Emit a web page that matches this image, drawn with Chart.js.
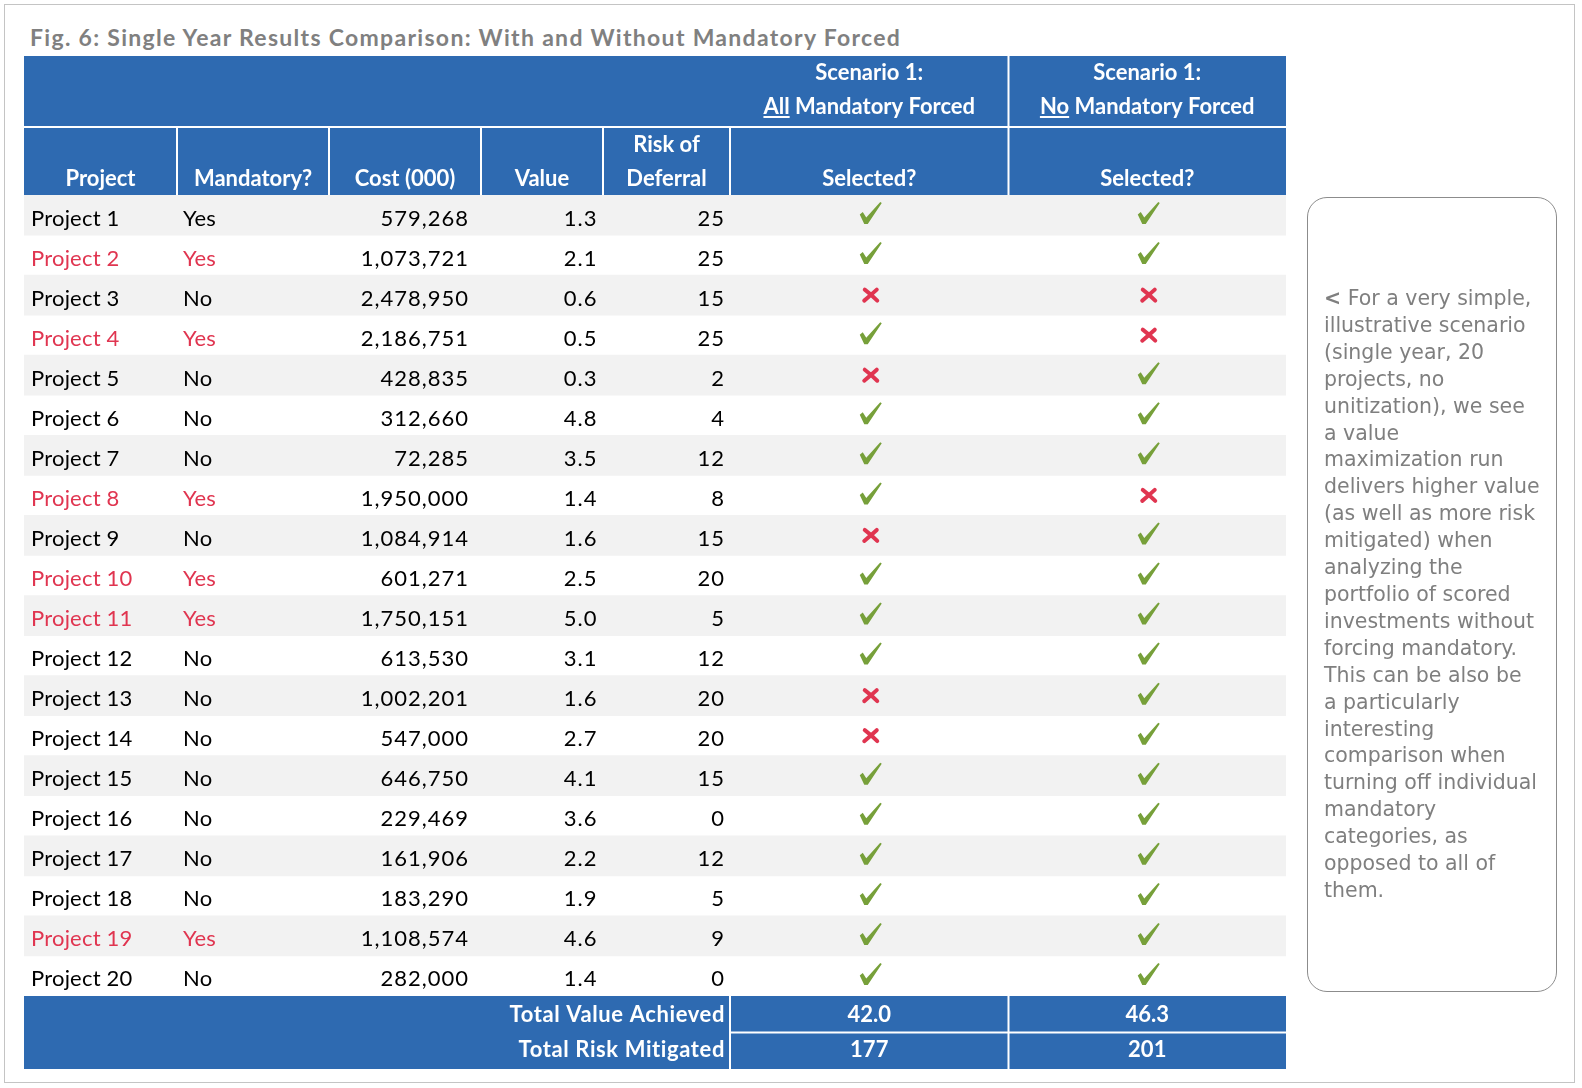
<!DOCTYPE html>
<html>
<head>
<meta charset="utf-8">
<title>Fig. 6: Single Year Results Comparison</title>
<script src="https://cdn.jsdelivr.net/npm/chart.js@4.4.1/dist/chart.umd.min.js"></script>
<style>
  html, body { margin: 0; padding: 0; background: #fff; }
  #wrap { position: relative; width: 1582px; height: 1088px; overflow: hidden; }
  #frame { position: absolute; left: 4px; top: 4px; width: 1571px; height: 1079px; border: 1px solid #c4c4c4; box-sizing: border-box; }
  #table { position: absolute; left: 0; top: 0; }
  #title { position: absolute; left: 30px; top: 24px; font: bold 23px Lato, sans-serif; letter-spacing: 1.3px;
           line-height: 26px; color: #808080; white-space: nowrap; }
  #note { position: absolute; left: 1307px; top: 197px; width: 250px; height: 795px;
          border: 1px solid #8c8c8c; border-radius: 20px; box-sizing: border-box; }
  #noteText { position: absolute; left: 1324px; top: 285px; font: 20.5px "DejaVu Sans", sans-serif;
              line-height: 26.9px; color: #7f7f7f; white-space: nowrap; }
</style>
</head>
<body>
<div id="wrap">
  <div id="frame"></div>
  <div id="title">Fig. 6: Single Year Results Comparison: With and Without Mandatory Forced</div>
  <canvas id="table" width="1582" height="1088"></canvas>
  <div id="note"></div>
  <div id="noteText"><b>&lt;</b> For a very simple,<br>illustrative scenario<br>(single year, 20<br>projects, no<br>unitization), we see<br>a value<br>maximization run<br>delivers higher value<br>(as well as more risk<br>mitigated) when<br>analyzing the<br>portfolio of scored<br>investments without<br>forcing mandatory.<br>This can be also be<br>a particularly<br>interesting<br>comparison when<br>turning off individual<br>mandatory<br>categories, as<br>opposed to all of<br>them.</div>
</div>
<script>
// valores
const projects = ['Project 1', 'Project 2', 'Project 3', 'Project 4', 'Project 5', 'Project 6', 'Project 7',
  'Project 8', 'Project 9', 'Project 10', 'Project 11', 'Project 12', 'Project 13', 'Project 14',
  'Project 15', 'Project 16', 'Project 17', 'Project 18', 'Project 19', 'Project 20'];
const mandatory = ['Yes', 'Yes', 'No', 'Yes', 'No', 'No', 'No', 'Yes', 'No', 'Yes',
  'Yes', 'No', 'No', 'No', 'No', 'No', 'No', 'No', 'Yes', 'No'];
// linhas destacadas em vermelho (o Project 1 não é destacado)
const highlighted = [0, 1, 0, 1, 0, 0, 0, 1, 0, 1, 1, 0, 0, 0, 0, 0, 0, 0, 1, 0];
const costs = [579268, 1073721, 2478950, 2186751, 428835, 312660, 72285, 1950000, 1084914, 601271,
  1750151, 613530, 1002201, 547000, 646750, 229469, 161906, 183290, 1108574, 282000];
const values = [1.3, 2.1, 0.6, 0.5, 0.3, 4.8, 3.5, 1.4, 1.6, 2.5, 5.0, 3.1, 1.6, 2.7, 4.1, 3.6, 2.2, 1.9, 4.6, 1.4];
const riskOfDeferral = [25, 25, 15, 25, 2, 4, 12, 8, 15, 20, 5, 12, 20, 20, 15, 0, 12, 5, 9, 0];
const selectedAllForced = [1, 1, 0, 1, 0, 1, 1, 1, 0, 1, 1, 1, 0, 0, 1, 1, 1, 1, 1, 1];
const selectedNoForced = [1, 1, 0, 0, 1, 1, 1, 0, 1, 1, 1, 1, 1, 1, 1, 1, 1, 1, 1, 1];

const columnLabels = [['Project'], ['Mandatory?'], ['Cost (000)'], ['Value'], ['Risk of', 'Deferral'], ['Selected?'], ['Selected?']];
const scenarioLabels = [['Scenario 1:', 'All', ' Mandatory Forced'], ['Scenario 1:', 'No', ' Mandatory Forced']];
const totalLabels = ['Total Value Achieved', 'Total Risk Mitigated'];
const totalValue = [42.0, 46.3];
const totalRisk = [177, 201];

// bordas das colunas (unidades do eixo x)
const colEdges = [0, 153, 305, 457, 579, 706, 984.5, 1262];

const BLUE = '#2e6ab1';
const RED = '#e03550';
const GREEN = '#77a03a';
const STRIPE = '#f2f2f2';
const BODY_FONT = '22px Lato, sans-serif';
const HEAD_FONT = 'bold 22px Lato, sans-serif';

function drawCheck(ctx, cx, cy) {
    ctx.save();
    ctx.translate(cx, cy);
    ctx.fillStyle = GREEN;
    ctx.beginPath();
    ctx.moveTo(-11, 1);
    ctx.lineTo(-8, -1.5);
    ctx.lineTo(-4.5, 4);
    ctx.lineTo(9.5, -11.5);
    ctx.lineTo(11, -10.5);
    ctx.lineTo(-3, 10.5);
    ctx.lineTo(-6.5, 10.5);
    ctx.closePath();
    ctx.fill();
    ctx.restore();
}

function drawCross(ctx, cx, cy) {
    ctx.save();
    ctx.translate(cx, cy);
    ctx.strokeStyle = RED;
    ctx.lineCap = 'round';
    ctx.lineWidth = 4;
    ctx.beginPath();
    ctx.moveTo(-6, -5.5);
    ctx.quadraticCurveTo(0, -1, 6.5, 5.5);
    ctx.moveTo(6, -5.5);
    ctx.quadraticCurveTo(0, 0, -6.5, 5.5);
    ctx.stroke();
    ctx.restore();
}

const tablePlugin = {
    id: 'tableCells',
    beforeDatasetsDraw(chart) {
        const ctx = chart.ctx;
        const x = chart.scales.x;
        const area = chart.chartArea;
        const left = x.getPixelForValue(colEdges[0]);
        const right = x.getPixelForValue(colEdges[colEdges.length - 1]);
        const ex = colEdges.map(v => x.getPixelForValue(v));

        ctx.save();
        // cabeçalho
        ctx.fillStyle = BLUE;
        ctx.fillRect(left, area.top - 139, right - left, 139);
        ctx.fillStyle = '#fff';
        ctx.fillRect(left, area.top - 69, right - left, 2);
        for (let i = 1; i < ex.length - 1; i++) {
            ctx.fillRect(ex[i] - 1, area.top - 67, 2, 67);
        }
        ctx.fillRect(ex[6] - 1, area.top - 139, 2, 70);

        // rodapé
        ctx.fillStyle = BLUE;
        ctx.fillRect(left, area.bottom, right - left, 73);
        ctx.fillStyle = '#fff';
        ctx.fillRect(ex[5] - 1, area.bottom, 2, 73);
        ctx.fillRect(ex[6] - 1, area.bottom, 2, 73);
        ctx.fillRect(ex[5], area.bottom + 35.5, right - ex[5], 2);

        // textos do cabeçalho
        ctx.fillStyle = '#fff';
        ctx.font = HEAD_FONT;
        ctx.textAlign = 'center';
        ctx.textBaseline = 'alphabetic';
        columnLabels.forEach((lines, i) => {
            const cx = (ex[i] + ex[i + 1]) / 2;
            lines.forEach((t, j) => {
                ctx.fillText(t, cx, area.top - 9 - (lines.length - 1 - j) * 34);
            });
        });
        scenarioLabels.forEach((parts, k) => {
            const cx = (ex[5 + k] + ex[6 + k]) / 2;
            ctx.textAlign = 'center';
            ctx.fillText(parts[0], cx, area.top - 115.5);
            const w1 = ctx.measureText(parts[1]).width;
            const w2 = ctx.measureText(parts[2]).width;
            const sx = cx - (w1 + w2) / 2;
            ctx.textAlign = 'left';
            ctx.fillText(parts[1], sx, area.top - 81);
            ctx.fillText(parts[2], sx + w1, area.top - 81);
            ctx.fillRect(sx, area.top - 79, w1, 2);
        });

        // textos do rodapé
        ctx.textAlign = 'right';
        ctx.letterSpacing = '0.6px';
        ctx.fillText(totalLabels[0], ex[5] - 5, area.bottom + 25.5);
        ctx.fillText(totalLabels[1], ex[5] - 5, area.bottom + 60.5);
        ctx.letterSpacing = '0px';
        ctx.textAlign = 'center';
        for (let k = 0; k < 2; k++) {
            const cx = (ex[5 + k] + ex[6 + k]) / 2;
            ctx.fillText(totalValue[k].toFixed(1), cx, area.bottom + 25.5);
            ctx.fillText(String(totalRisk[k]), cx, area.bottom + 60.5);
        }
        ctx.restore();
    },
    afterDatasetsDraw(chart) {
        const ctx = chart.ctx;
        const x = chart.scales.x;
        const y = chart.scales.y;
        const ex = colEdges.map(v => x.getPixelForValue(v));

        ctx.save();
        ctx.font = BODY_FONT;
        ctx.textBaseline = 'alphabetic';
        projects.forEach((name, i) => {
            const cy = y.getPixelForValue(i);
            const base = cy + 10.5;

            ctx.fillStyle = highlighted[i] ? RED : '#000';
            ctx.textAlign = 'left';
            ctx.letterSpacing = '0.2px';
            ctx.fillText(name, ex[0] + 7, base);
            ctx.fillText(mandatory[i], ex[1] + 6, base);

            ctx.fillStyle = '#000';
            ctx.textAlign = 'right';
            ctx.letterSpacing = '1px';
            ctx.fillText(costs[i].toLocaleString('en-US'), ex[3] - 12, base);
            ctx.fillText(values[i].toFixed(1), ex[4] - 5.5, base);
            ctx.fillText(String(riskOfDeferral[i]), ex[5] - 5, base);
            ctx.letterSpacing = '0px';

            const c1 = (ex[5] + ex[6]) / 2 + 1.5;
            const c2 = (ex[6] + ex[7]) / 2 + 1.5;
            selectedAllForced[i] ? drawCheck(ctx, c1, cy - 1.5) : drawCross(ctx, c1, cy);
            selectedNoForced[i] ? drawCheck(ctx, c2, cy - 1.5) : drawCross(ctx, c2, cy);
        });
        ctx.restore();
    }
};

function desenhar() {
    const ctx = document.getElementById('table').getContext('2d');
    new Chart(ctx, {
        type: 'bar',
        data: {
            labels: projects,
            datasets: [{
                label: 'stripes',
                // linhas ímpares com fundo cinza
                data: projects.map((p, i) => i % 2 === 0 ? [colEdges[0], colEdges[colEdges.length - 1]] : null),
                backgroundColor: STRIPE,
                borderWidth: 0,
                barPercentage: 1,
                categoryPercentage: 1
            }]
        },
        plugins: [tablePlugin],
        options: {
            indexAxis: 'y',
            responsive: false,
            animation: false,
            layout: {
                padding: { left: 24, right: 296, top: 195, bottom: 92 }
            },
            scales: {
                x: { type: 'linear', min: colEdges[0], max: colEdges[colEdges.length - 1], display: false },
                y: { type: 'category', display: false }
            },
            plugins: {
                legend: { display: false },
                tooltip: { enabled: false }
            }
        }
    });
}

document.addEventListener('DOMContentLoaded', function() {
    Promise.all([
        document.fonts.load(BODY_FONT),
        document.fonts.load(HEAD_FONT)
    ]).then(desenhar, desenhar);
});
</script>
</body>
</html>
